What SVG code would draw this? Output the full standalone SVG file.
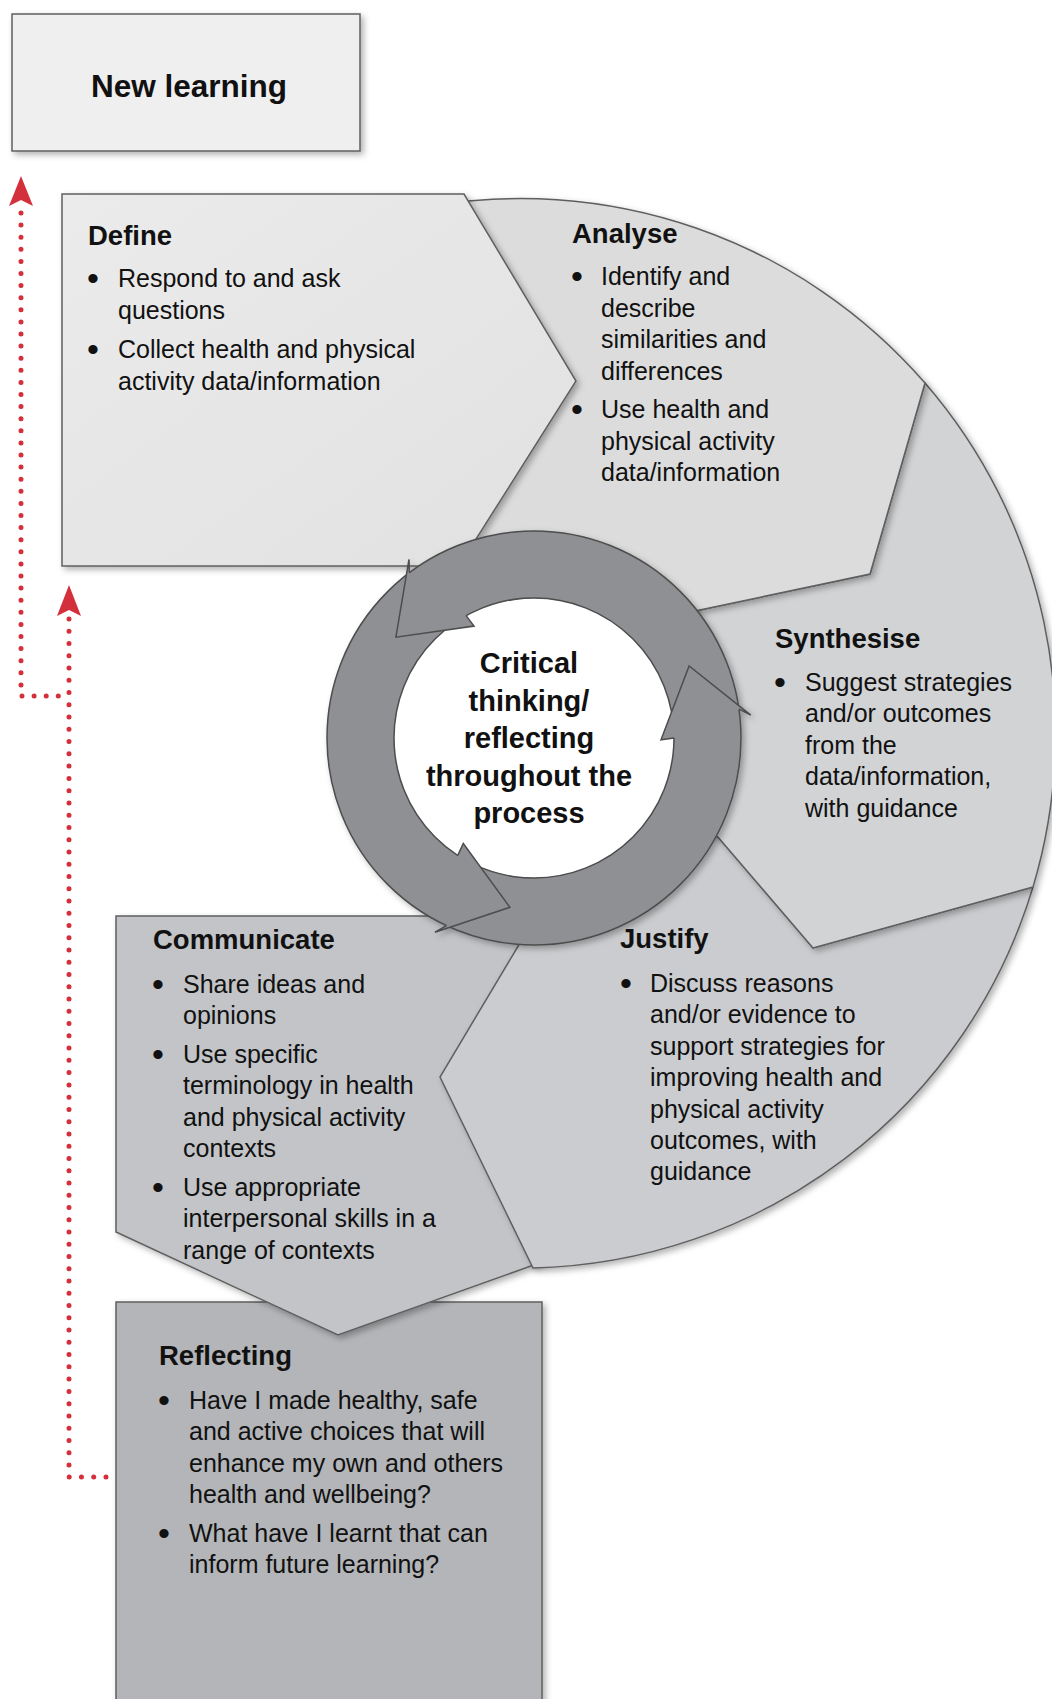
<svg xmlns="http://www.w3.org/2000/svg" width="1052" height="1699" viewBox="0 0 1052 1699">
<style>
.h{font-family:"Liberation Sans",Arial,sans-serif;font-weight:bold;font-size:27.5px;fill:#111}
.t{font-family:"Liberation Sans",Arial,sans-serif;font-size:25px;fill:#111}
.b{font-family:"Liberation Sans",Arial,sans-serif;font-size:34px;fill:#111}
.c{font-family:"Liberation Sans",Arial,sans-serif;font-weight:bold;font-size:29px;fill:#111;text-anchor:middle}
.nl{font-family:"Liberation Sans",Arial,sans-serif;font-weight:bold;font-size:31.5px;fill:#111}
.sh{stroke:#5f5f5f;stroke-width:1.5;filter:url(#sh)}
.ring{fill:#8e9093;stroke:#4d4d4d;stroke-width:1.5;stroke-linejoin:miter}
.dot{fill:none;stroke:#d4303c;stroke-width:5;stroke-linecap:round}
.ah{fill:#d4303c}
</style>
<defs>
<filter id="sh" x="-10%" y="-10%" width="125%" height="125%">
<feDropShadow dx="3" dy="3" stdDeviation="3" flood-color="#000" flood-opacity="0.3"/>
</filter>
<linearGradient id="gDef" x1="0" y1="0" x2="1" y2="1">
<stop offset="0" stop-color="#ebebeb"/><stop offset="1" stop-color="#e1e1e1"/>
</linearGradient>
</defs>
<rect width="1052" height="1699" fill="#fff"/>

<g id="new-learning">
<rect class="sh" x="12" y="14" width="348" height="137" fill="#efefef"/>
<text class="nl" x="91" y="97">New learning</text>
</g>

<g id="reflecting">
<rect class="sh" x="116" y="1302" width="426" height="410" fill="#b3b5b8"/>
<text class="h" x="159" y="1365">Reflecting</text>
<text class="b" x="158" y="1412">•</text>
<text class="t" x="189" y="1409">Have I made healthy, safe</text>
<text class="t" x="189" y="1440.4">and active choices that will</text>
<text class="t" x="189" y="1471.8">enhance my own and others</text>
<text class="t" x="189" y="1503.2">health and wellbeing?</text>
<text class="b" x="158" y="1545">•</text>
<text class="t" x="189" y="1542">What have I learnt that can</text>
<text class="t" x="189" y="1573.4">inform future learning?</text>
</g>

<g id="communicate">
<polygon class="sh" points="116,916 545,916 545,1261 338,1335 116,1232" fill="#c2c4c7"/>
<text class="h" x="153" y="949">Communicate</text>
<text class="b" x="152" y="996">•</text>
<text class="t" x="183" y="993">Share ideas and</text>
<text class="t" x="183" y="1024.4">opinions</text>
<text class="b" x="152" y="1066">•</text>
<text class="t" x="183" y="1063">Use specific</text>
<text class="t" x="183" y="1094.4">terminology in health</text>
<text class="t" x="183" y="1125.8">and physical activity</text>
<text class="t" x="183" y="1157.2">contexts</text>
<text class="b" x="152" y="1199">•</text>
<text class="t" x="183" y="1196">Use appropriate</text>
<text class="t" x="183" y="1227.4">interpersonal skills in a</text>
<text class="t" x="183" y="1258.8">range of contexts</text>
</g>

<g id="justify">
<path class="sh" d="M1033,887 A535,535 0 0,1 533,1268 L440,1077 L520,943 L534,738 L718,837 L813,948 Z" fill="#cbcccf"/>
<text class="h" x="620" y="948">Justify</text>
<text class="b" x="620" y="995">•</text>
<text class="t" x="650" y="992">Discuss reasons</text>
<text class="t" x="650" y="1023.4">and/or evidence to</text>
<text class="t" x="650" y="1054.8">support strategies for</text>
<text class="t" x="650" y="1086.2">improving health and</text>
<text class="t" x="650" y="1117.6">physical activity</text>
<text class="t" x="650" y="1149">outcomes, with</text>
<text class="t" x="650" y="1180.4">guidance</text>
</g>

<g id="synthesise">
<path class="sh" d="M925,383 A535,535 0 0,1 1033,887 L813,948 L718,837 L534,738 L600,631 L870,574 Z" fill="#d2d3d5"/>
<text class="h" x="775" y="648">Synthesise</text>
<text class="b" x="774" y="694">•</text>
<text class="t" x="805" y="691">Suggest strategies</text>
<text class="t" x="805" y="722.4">and/or outcomes</text>
<text class="t" x="805" y="753.8">from the</text>
<text class="t" x="805" y="785.2">data/information,</text>
<text class="t" x="805" y="816.6">with guidance</text>
</g>

<g id="analyse">
<path class="sh" d="M420,208 A535,535 0 0,1 925,383 L870,574 L600,631 L534,738 L440,560 Z" fill="#dcdcdc"/>
<text class="h" x="572" y="243">Analyse</text>
<text class="b" x="571" y="288">•</text>
<text class="t" x="601" y="285">Identify and</text>
<text class="t" x="601" y="316.5">describe</text>
<text class="t" x="601" y="348">similarities and</text>
<text class="t" x="601" y="379.5">differences</text>
<text class="b" x="571" y="421">•</text>
<text class="t" x="601" y="418">Use health and</text>
<text class="t" x="601" y="449.5">physical activity</text>
<text class="t" x="601" y="481">data/information</text>
</g>

<g id="define">
<polygon class="sh" points="62,194 464,194 576,381 459,566 62,566" fill="url(#gDef)"/>
<text class="h" x="88" y="245">Define</text>
<text class="b" x="87" y="290">•</text>
<text class="t" x="118" y="287">Respond to and ask</text>
<text class="t" x="118" y="318.5">questions</text>
<text class="b" x="87" y="361">•</text>
<text class="t" x="118" y="358">Collect health and physical</text>
<text class="t" x="118" y="389.5">activity data/information</text>
</g>

<g id="critical-thinking">
<g filter="url(#sh)">
<circle cx="534" cy="738" r="140" fill="#fff"/>
<path class="ring" fill-rule="evenodd" d="M534,531 A207,207 0 1,1 534,945 A207,207 0 1,1 534,531 Z M534,598 A140,140 0 1,0 534,878 A140,140 0 1,0 534,598 Z"/>
<path class="ring" d="M446.5,925.6 L435,932.2 L509.9,907.3 L463.3,843.5 L457.8,855.4"/>
<path class="ring" d="M739,709.2 L750.8,715.2 L689.1,666 L661,739.8 L674,738"/>
<path class="ring" d="M409.4,572.7 L409,559.4 L395.9,637.2 L474,626.1 L466.1,615.6"/>
</g>
<text class="c" x="529" y="673">Critical</text>
<text class="c" x="529" y="710.5">thinking/</text>
<text class="c" x="529" y="748">reflecting</text>
<text class="c" x="529" y="785.5">throughout the</text>
<text class="c" x="529" y="823">process</text>
</g>

<g id="connectors">
<path class="dot" d="M21,213 V696 H69" stroke-dasharray="0 12.1"/>
<polygon class="ah" points="21,176 33,206 21,200 9,206"/>
<path class="dot" d="M69,619 V1477 H108" stroke-dasharray="0 12.26"/>
<polygon class="ah" points="69,585 81,616 69,610 57,616"/>
</g>
</svg>
